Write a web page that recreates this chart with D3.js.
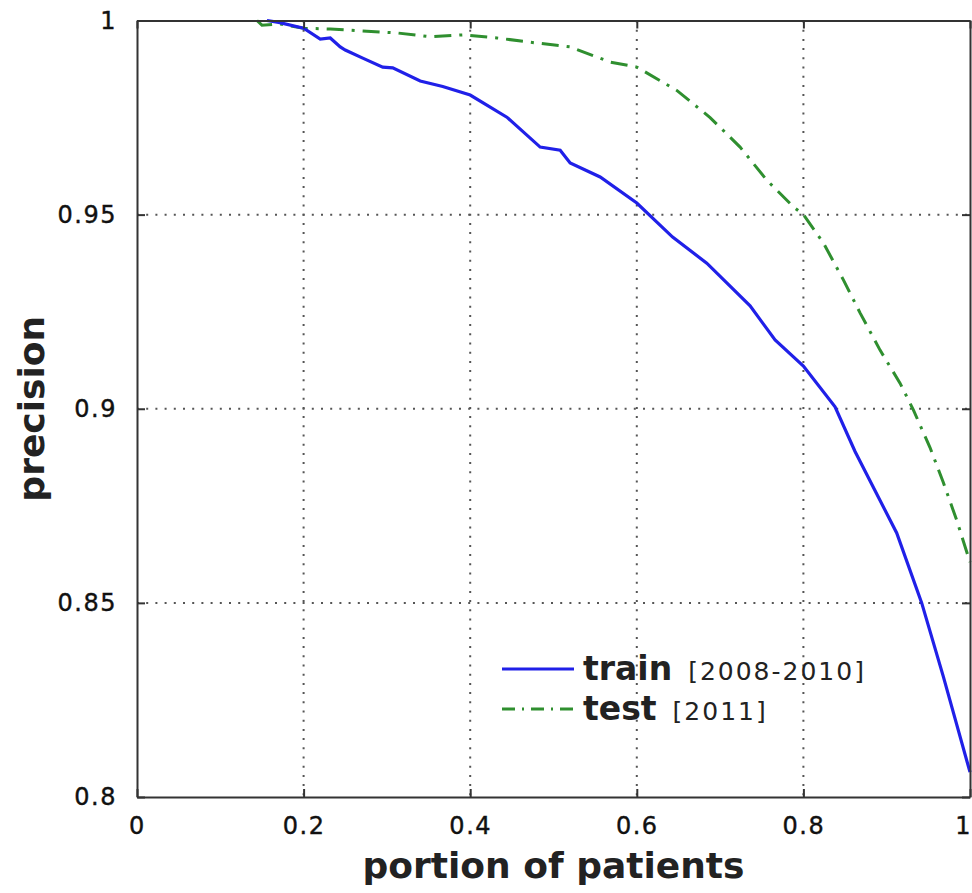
<!DOCTYPE html>
<html>
<head>
<meta charset="utf-8">
<script src="https://cdn.jsdelivr.net/npm/d3@7"></script>
<style>
  html, body { margin: 0; padding: 0; background: #fff; }
  svg { display: block; }
</style>
</head>
<body>
<div id="chart"></div>
<script>
// ---- Data ----
const xTicks = [0, 0.2, 0.4, 0.6, 0.8, 1];
const yTicks = [0.8, 0.85, 0.9, 0.95, 1];
const xTickLabels = ["0", "0.2", "0.4", "0.6", "0.8", "1"];
const yTickLabels = ["0.8", "0.85", "0.9", "0.95", "1"];

const trainX = [0.156, 0.17, 0.2, 0.22, 0.232, 0.244, 0.25, 0.271, 0.295, 0.307, 0.34, 0.367,
  0.4, 0.444, 0.484, 0.508, 0.52, 0.556, 0.6, 0.643, 0.684, 0.736, 0.766, 0.8, 0.838,
  0.862, 0.912, 0.942, 0.968, 1.0];
const trainY = [1.0, 0.9995, 0.998, 0.9952, 0.9955, 0.9932, 0.9924, 0.9903, 0.988, 0.9878, 0.9844, 0.983,
  0.9808, 0.9751, 0.9674, 0.9666, 0.9633, 0.9597, 0.953, 0.9442, 0.9375, 0.9265, 0.9177, 0.911, 0.9005,
  0.889, 0.868, 0.85, 0.831, 0.8064];

const testX = [0.144, 0.15, 0.172, 0.2, 0.232, 0.312, 0.352, 0.391, 0.432, 0.48, 0.52, 0.552,
  0.568, 0.6, 0.648, 0.688, 0.724, 0.756, 0.788, 0.8, 0.824, 0.848, 0.868, 0.892, 0.916,
  0.932, 0.952, 0.968, 0.984, 1.0];
const testY = [1.0, 0.9988, 0.9991, 0.998, 0.9978, 0.9968, 0.9958, 0.9963, 0.9955, 0.9942, 0.9932, 0.9906,
  0.9893, 0.988, 0.982, 0.975, 0.9674, 0.9589, 0.952, 0.95, 0.9427, 0.9332, 0.9247, 0.9151, 0.9066,
  0.8997, 0.89, 0.881, 0.8713, 0.8605];

const seriesNames = ["train", "test"];
const seriesNotes = ["[2008-2010]", "[2011]"];

// ---- Layout ----
const W = 972, H = 893;
const margin = { top: 20.5, right: 2, bottom: 96, left: 137 };
const width = W - margin.left - margin.right;
const height = H - margin.top - margin.bottom;

const BLUE = "#2020e8";
const GREEN = "#2f8f2f";
const AXIS = "#333";
const FONT = "'DejaVu Sans', sans-serif";

const svgRoot = d3.select("#chart").append("svg")
  .attr("width", W).attr("height", H);
const svg = svgRoot.append("g")
  .attr("transform", `translate(${margin.left},${margin.top})`);

// ---- Scales ----
const x = d3.scaleLinear().domain([0, 1]).range([0, width]);
const y = d3.scaleLinear().domain([0.8, 1]).range([height, 0]);

// ---- Grid (dotted) ----
svg.append("g")
  .selectAll("line")
  .data(xTicks.slice(1, -1))
  .join("line")
  .attr("x1", d => x(d)).attr("x2", d => x(d))
  .attr("y1", 0).attr("y2", height)
  .attr("stroke", "#555").attr("stroke-width", 2)
  .attr("stroke-dasharray", "2,7.2");

svg.append("g")
  .selectAll("line")
  .data(yTicks.slice(1, -1))
  .join("line")
  .attr("y1", d => y(d)).attr("y2", d => y(d))
  .attr("x1", 0).attr("x2", width)
  .attr("stroke", "#555").attr("stroke-width", 2)
  .attr("stroke-dasharray", "2,7.2");

// ---- Lines ----
const line = d3.line()
  .x(d => x(d[0]))
  .y(d => y(d[1]));

const trainPts = trainX.map((v, i) => [v, trainY[i]]);
const testPts = testX.map((v, i) => [v, testY[i]]);

svg.append("path")
  .datum(testPts)
  .attr("d", line)
  .attr("fill", "none")
  .attr("stroke", GREEN)
  .attr("stroke-width", 3)
  .attr("stroke-dasharray", "17,8,3,8");

svg.append("path")
  .datum(trainPts)
  .attr("d", line)
  .attr("fill", "none")
  .attr("stroke", BLUE)
  .attr("stroke-width", 3.2);

// ---- Axes (box with inward ticks on all sides) ----
const tickLen = -8;
const styleAxis = g => {
  g.select(".domain").attr("stroke", AXIS).attr("stroke-width", 2);
  g.selectAll(".tick line").attr("stroke", AXIS).attr("stroke-width", 2);
  g.selectAll(".tick text")
    .attr("font-family", FONT)
    .attr("font-size", 24)
    .attr("letter-spacing", 1.5)
    .attr("stroke", "#111")
    .attr("stroke-width", 0.4)
    .attr("fill", "#111");
};

const xAxisG = svg.append("g")
  .attr("transform", `translate(0,${height})`)
  .call(d3.axisBottom(x).tickValues(xTicks)
    .tickFormat((d, i) => xTickLabels[i])
    .tickSizeInner(tickLen).tickSizeOuter(0).tickPadding(20))
  .call(styleAxis);

// keep the last label ("1") inside the window
xAxisG.selectAll(".tick text")
  .filter(d => d === 1)
  .attr("letter-spacing", 0)
  .attr("text-anchor", "end")
  .attr("dx", 0);

svg.append("g")
  .call(d3.axisLeft(y).tickValues(yTicks)
    .tickFormat((d, i) => yTickLabels[i])
    .tickSizeInner(tickLen).tickSizeOuter(0).tickPadding(20))
  .call(styleAxis);

svg.append("g")
  .call(d3.axisTop(x).tickValues(xTicks).tickFormat("")
    .tickSizeInner(tickLen).tickSizeOuter(0))
  .call(styleAxis);

svg.append("g")
  .attr("transform", `translate(${width},0)`)
  .call(d3.axisRight(y).tickValues(yTicks).tickFormat("")
    .tickSizeInner(tickLen).tickSizeOuter(0))
  .call(styleAxis);

// ---- Axis labels ----
svg.append("text")
  .attr("x", width / 2)
  .attr("y", height + 81)
  .attr("text-anchor", "middle")
  .attr("font-family", FONT)
  .attr("font-weight", "bold")
  .attr("font-size", 36)
  .attr("fill", "#222")
  .text("portion of patients");

svg.append("text")
  .attr("transform", `translate(${44 - margin.left},${height / 2}) rotate(-90)`)
  .attr("text-anchor", "middle")
  .attr("font-family", FONT)
  .attr("font-weight", "bold")
  .attr("font-size", 36)
  .attr("fill", "#222")
  .text("precision");

// ---- Legend ----
const legend = svg.append("g")
  .attr("transform", `translate(${502 - margin.left},${669 - margin.top})`);

const legendItems = seriesNames.map((name, i) => ({
  name,
  note: seriesNotes[i],
  color: i === 0 ? BLUE : GREEN,
  dash: i === 0 ? null : "13,7,2,7"
}));

const item = legend.selectAll("g.item")
  .data(legendItems)
  .join("g")
  .attr("class", "item")
  .attr("transform", (d, i) => `translate(0,${i * 40})`);

item.append("line")
  .attr("x1", 0).attr("x2", 72)
  .attr("stroke", d => d.color)
  .attr("stroke-width", 3)
  .attr("stroke-dasharray", d => d.dash);

const label = item.append("text")
  .attr("x", 81)
  .attr("y", 11)
  .attr("font-family", FONT)
  .attr("fill", "#222");

label.append("tspan")
  .attr("font-weight", "bold")
  .attr("font-size", 33)
  .text(d => d.name);

label.append("tspan")
  .attr("dx", 16)
  .attr("font-size", 25)
  .attr("letter-spacing", 2)
  .text(d => d.note);
</script>
</body>
</html>
